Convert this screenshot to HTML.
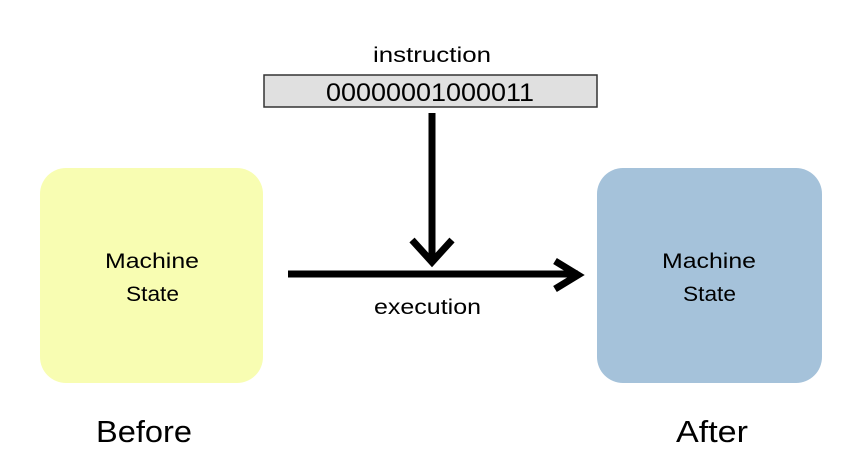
<!DOCTYPE html>
<html><head><style>
body{margin:0;width:860px;height:470px;background:#fff;overflow:hidden}
</style></head><body>
<svg width="860" height="470" xmlns="http://www.w3.org/2000/svg" font-family="Liberation Sans, DejaVu Sans, sans-serif">
<rect x="40" y="168" width="223" height="215" rx="26" fill="#f8fdb2"/>
<rect x="597" y="168" width="225" height="215" rx="26" fill="#a5c2da"/>
<text x="105" y="268" font-size="21" textLength="94" lengthAdjust="spacingAndGlyphs">Machine</text>
<text x="126" y="301" font-size="21" textLength="53" lengthAdjust="spacingAndGlyphs">State</text>
<text x="662" y="268" font-size="21" textLength="94" lengthAdjust="spacingAndGlyphs">Machine</text>
<text x="683" y="301" font-size="21" textLength="53" lengthAdjust="spacingAndGlyphs">State</text>
<text x="96" y="442" font-size="31" textLength="96" lengthAdjust="spacingAndGlyphs">Before</text>
<text x="676" y="442" font-size="31" textLength="72" lengthAdjust="spacingAndGlyphs">After</text>
<text x="373" y="62" font-size="21" textLength="118" lengthAdjust="spacingAndGlyphs">instruction</text>
<rect x="264" y="75" width="333" height="32" fill="#e0e0e0" stroke="#333" stroke-width="1.5"/>
<text x="326" y="101" font-size="25" textLength="208" lengthAdjust="spacingAndGlyphs">00000001000011</text>
<line x1="432" y1="113" x2="432" y2="262" stroke="#000" stroke-width="7"/>
<polyline points="412,240 432,262 452,240" fill="none" stroke="#000" stroke-width="7"/>
<line x1="288" y1="274" x2="578" y2="274" stroke="#000" stroke-width="7"/>
<polyline points="555,261 578,275 555,289" fill="none" stroke="#000" stroke-width="7"/>
<text x="374" y="314" font-size="21" textLength="107" lengthAdjust="spacingAndGlyphs">execution</text>
</svg>
</body></html>
